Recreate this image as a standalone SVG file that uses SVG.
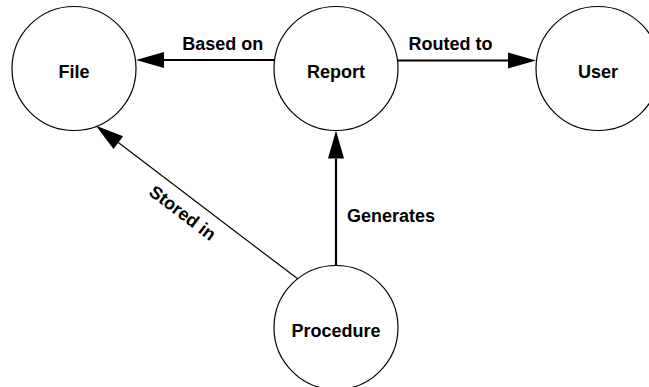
<svg xmlns="http://www.w3.org/2000/svg" width="649" height="387" viewBox="0 0 649 387">
  <defs>
    <style>
      .node circle { fill: #ffffff; stroke: #000000; stroke-width: 1.2; }
      .label { font-family: "Liberation Sans", Arial, sans-serif; font-size: 18px; font-weight: bold; fill: #000000; }
      .mid { text-anchor: middle; }
      .edge { stroke: #000000; fill: none; }
      .thick { stroke-width: 2.2; }
      .thin { stroke-width: 1.2; }
    </style>
    <!-- filled triangular head, drawn forward from the line's end point -->
    <marker id="head" markerUnits="userSpaceOnUse" markerWidth="30" markerHeight="18" refX="0" refY="8" orient="auto" overflow="visible">
      <path d="M0,0 L28,8 L0,16 Z" fill="#000000"/>
    </marker>
  </defs>
  <rect width="649" height="387" fill="#ffffff"/>

  <g id="connectors">
    <g id="edge-based-on">
      <line class="edge thick" x1="274" y1="60" x2="164" y2="60" marker-end="url(#head)"/>
      <text class="label mid" x="222.8" y="50">Based on</text>
    </g>
    <g id="edge-routed-to">
      <line class="edge thick" x1="398" y1="60.5" x2="508" y2="60.5" marker-end="url(#head)"/>
      <text class="label mid" x="450.5" y="50">Routed to</text>
    </g>
    <g id="edge-generates">
      <line class="edge thick" x1="336" y1="266" x2="336" y2="158.5" marker-end="url(#head)"/>
      <text class="label" x="347" y="222">Generates</text>
    </g>
    <g id="edge-stored-in">
      <line class="edge thin" x1="298.3" y1="279.3" x2="118.3" y2="142.6" marker-end="url(#head)"/>
      <text class="label mid" x="178.9" y="217.8" transform="rotate(37.2 178.9 217.8)">Stored in</text>
    </g>
  </g>

  <g id="node-file" class="node">
    <circle cx="74" cy="68.5" r="62"/>
    <text class="label mid" x="74" y="77.5">File</text>
  </g>
  <g id="node-report" class="node">
    <circle cx="336" cy="68.5" r="62"/>
    <text class="label mid" x="336" y="77.5">Report</text>
  </g>
  <g id="node-user" class="node">
    <circle cx="598" cy="68.5" r="62"/>
    <text class="label mid" x="598" y="77.5">User</text>
  </g>
  <g id="node-procedure" class="node">
    <circle cx="336" cy="327.5" r="62"/>
    <text class="label mid" x="336" y="337">Procedure</text>
  </g>
</svg>
